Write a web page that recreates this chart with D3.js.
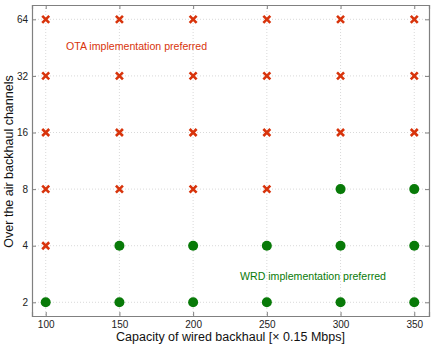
<!DOCTYPE html>
<html>
<head>
<meta charset="utf-8">
<script src="https://cdn.jsdelivr.net/npm/d3@7"></script>
<style>
  body { margin: 0; background: #fff; }
  text { font-family: "Liberation Sans", Arial, sans-serif; }
</style>
</head>
<body>
<div id="chart-area"></div>
<script>
// capacity values on x, channel counts on y (log2)
var capacities = [100, 150, 200, 250, 300, 350];
var channels = [2, 4, 8, 16, 32, 64];

// preferred implementation per row (channels), one entry per capacity
var pref2  = ["WRD", "WRD", "WRD", "WRD", "WRD", "WRD"];
var pref4  = ["OTA", "WRD", "WRD", "WRD", "WRD", "WRD"];
var pref8  = ["OTA", "OTA", "OTA", "OTA", "WRD", "WRD"];
var pref16 = ["OTA", "OTA", "OTA", "OTA", "OTA", "OTA"];
var pref32 = ["OTA", "OTA", "OTA", "OTA", "OTA", "OTA"];
var pref64 = ["OTA", "OTA", "OTA", "OTA", "OTA", "OTA"];

var xTicks = [100, 150, 200, 250, 300, 350];
var yTicks = [2, 4, 8, 16, 32, 64];

var rows = [pref2, pref4, pref8, pref16, pref32, pref64];
var data = [];
rows.forEach(function(row, i) {
    row.forEach(function(p, j) {
        data.push({ cap: capacities[j], ch: channels[i], pref: p });
    });
});

var margin = { left: 32, right: 7, top: 5, bottom: 32 };
var width = 436 - margin.left - margin.right,
    height = 348 - margin.top - margin.bottom;

var red = "#d8340c", green = "#087a08";

var svg = d3.select("#chart-area")
    .append("svg")
        .attr("width", 436)
        .attr("height", 348);

var g = svg.append("g")
    .attr("transform", "translate(" + margin.left + ", " + margin.top + ")");

var xScale = d3.scaleLinear()
    .domain([90.7, 360])
    .range([0, width]);

var yScale = d3.scaleLog()
    .base(2)
    .domain([Math.pow(2, 0.758), Math.pow(2, 6.253)])
    .range([height, 0]);

// dotted grid
g.selectAll(".vgrid")
    .data(xTicks)
    .enter().append("line")
        .attr("x1", function(d) { return xScale(d); })
        .attr("x2", function(d) { return xScale(d); })
        .attr("y1", 0)
        .attr("y2", height)
        .attr("stroke", "#cfcfcf")
        .attr("stroke-width", 0.8)
        .attr("stroke-dasharray", "1,2");

g.selectAll(".hgrid")
    .data(yTicks)
    .enter().append("line")
        .attr("y1", function(d) { return yScale(d); })
        .attr("y2", function(d) { return yScale(d); })
        .attr("x1", 0)
        .attr("x2", width)
        .attr("stroke", "#cfcfcf")
        .attr("stroke-width", 0.8)
        .attr("stroke-dasharray", "1,2");

// axes with inner ticks
var xAxisCall = d3.axisBottom(xScale).tickValues(xTicks).tickSize(-4).tickPadding(5);
var yAxisCall = d3.axisLeft(yScale).tickValues(yTicks).tickSize(-4).tickPadding(4)
    .tickFormat(function(d) { return d; });

g.append("g")
    .attr("class", "x axis")
    .attr("transform", "translate(0, " + height + ")")
    .call(xAxisCall);

g.append("g")
    .attr("class", "y axis")
    .call(yAxisCall);

g.append("g")
    .attr("class", "x axis top")
    .call(d3.axisTop(xScale).tickValues(xTicks).tickSize(-4).tickFormat(""));

g.append("g")
    .attr("class", "y axis right")
    .attr("transform", "translate(" + width + ", 0)")
    .call(d3.axisRight(yScale).tickValues(yTicks).tickSize(-4).tickFormat(""));

g.selectAll(".axis path.domain").attr("stroke", "#808080").attr("stroke-width", 1.2);
g.selectAll(".axis line").attr("stroke", "#808080");
g.selectAll(".axis text")
    .attr("font-size", "10px")
    .attr("fill", "#222")
    .attr("font-family", "'Liberation Sans', Arial, sans-serif");

// axis labels
svg.append("text")
    .attr("x", margin.left + width / 2)
    .attr("y", 340.5)
    .attr("font-size", "12.5px")
    .attr("text-anchor", "middle")
    .attr("fill", "#111")
    .text("Capacity of wired backhaul [× 0.15 Mbps]");

svg.append("text")
    .attr("x", -(margin.top + height / 2) - 1)
    .attr("y", 13)
    .attr("font-size", "12.5px")
    .attr("text-anchor", "middle")
    .attr("fill", "#111")
    .attr("transform", "rotate(-90)")
    .text("Over the air backhaul channels");

// markers
var xPath = "M-3.5,-3.5L3.5,3.5M-3.5,3.5L3.5,-3.5";

g.selectAll(".ota")
    .data(data.filter(function(d) { return d.pref === "OTA"; }))
    .enter().append("path")
        .attr("class", "ota")
        .attr("d", xPath)
        .attr("transform", function(d) {
            return "translate(" + xScale(d.cap) + "," + yScale(d.ch) + ")";
        })
        .attr("stroke", red)
        .attr("stroke-width", 2.6)
        .attr("fill", "none");

g.selectAll(".wrd")
    .data(data.filter(function(d) { return d.pref === "WRD"; }))
    .enter().append("circle")
        .attr("class", "wrd")
        .attr("cx", function(d) { return xScale(d.cap); })
        .attr("cy", function(d) { return yScale(d.ch); })
        .attr("r", 5)
        .attr("fill", green);

// annotations
svg.append("text")
    .attr("x", 66)
    .attr("y", 49.5)
    .attr("font-size", "10.6px")
    .attr("fill", red)
    .text("OTA implementation preferred");

svg.append("text")
    .attr("x", 240)
    .attr("y", 279.5)
    .attr("font-size", "10.6px")
    .attr("fill", green)
    .text("WRD implementation preferred");
</script>
</body>
</html>
